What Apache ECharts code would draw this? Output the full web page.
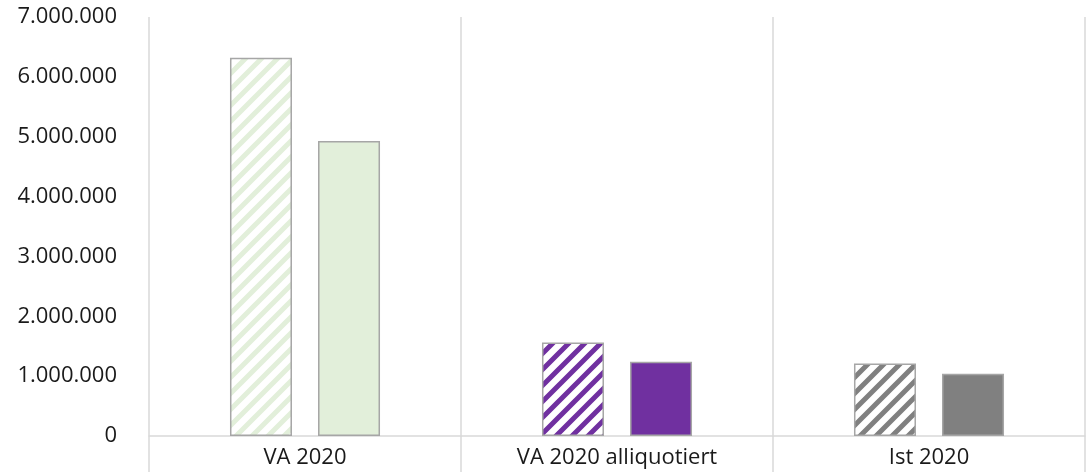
<!DOCTYPE html>
<html>
<head>
<meta charset="utf-8">
<script src="https://cdn.jsdelivr.net/npm/echarts@6/dist/echarts.min.js"></script>
<style>
html,body{margin:0;padding:0;background:#fff;}
#chart{width:1088px;height:472px;}
</style>
</head>
<body>
<div id="chart"></div>
<script>
// Daten
var categories = ['VA 2020', 'VA 2020 alliquotiert', 'Ist 2020'];
var hatchedValues = [6320000, 1560000, 1210000];
var solidValues = [4930000, 1240000, 1040000];
var groupColors = ['#e2efda', '#7030a0', '#808080'];
var yTicks = [0, 1000000, 2000000, 3000000, 4000000, 5000000, 6000000, 7000000];

// schraffiertes Muster
function stripes(color) {
	var s = 16;
	var c = document.createElement('canvas');
	c.width = s; c.height = s;
	var ctx = c.getContext('2d');
	ctx.fillStyle = '#fff';
	ctx.fillRect(0, 0, s, s);
	ctx.strokeStyle = color;
	ctx.lineWidth = 5;
	ctx.beginPath();
	ctx.moveTo(-4, s + 4); ctx.lineTo(s + 4, -4);
	ctx.moveTo(-4, 4); ctx.lineTo(4, -4);
	ctx.moveTo(s - 4, s + 4); ctx.lineTo(s + 4, s - 4);
	ctx.stroke();
	return { image: c, repeat: 'repeat' };
}

function fmt(v) {
	return String(v).replace(/\B(?=(\d{3})+(?!\d))/g, '.');
}

var chart = echarts.init(document.getElementById('chart'));
var border = { borderColor: '#a6a6a6', borderWidth: 1.5 };

var option = {
	animation: false,
	grid: { left: 149, right: 3, top: 17, bottom: 36 },
	xAxis: {
		type: 'category',
		data: categories,
		axisLine: { show: true, lineStyle: { color: '#d9d9d9', width: 1.5 } },
		axisTick: { show: true, length: 36, lineStyle: { color: '#d9d9d9', width: 1.5 } },
		splitLine: { show: true, lineStyle: { color: '#d9d9d9', width: 1.5 } },
		axisLabel: { color: '#1a1a1a', fontSize: 22, fontFamily: 'Open Sans', margin: 11 }
	},
	yAxis: {
		type: 'value',
		min: yTicks[0],
		max: yTicks[yTicks.length - 1],
		interval: 1000000,
		axisLine: { show: false },
		axisTick: { show: false },
		splitLine: { show: false },
		axisLabel: { color: '#1a1a1a', fontSize: 22, fontFamily: 'Open Sans', margin: 32, formatter: fmt }
	},
	series: [{
		type: 'bar',
		barWidth: 62,
		barGap: '42%',
		data: hatchedValues.map(function (v, i) {
			return { value: v, itemStyle: Object.assign({ color: stripes(groupColors[i]) }, border) };
		})
	}, {
		type: 'bar',
		barWidth: 62,
		data: solidValues.map(function (v, i) {
			return { value: v, itemStyle: Object.assign({ color: groupColors[i] }, border) };
		})
	}]
};
chart.setOption(option);
</script>
</body>
</html>
